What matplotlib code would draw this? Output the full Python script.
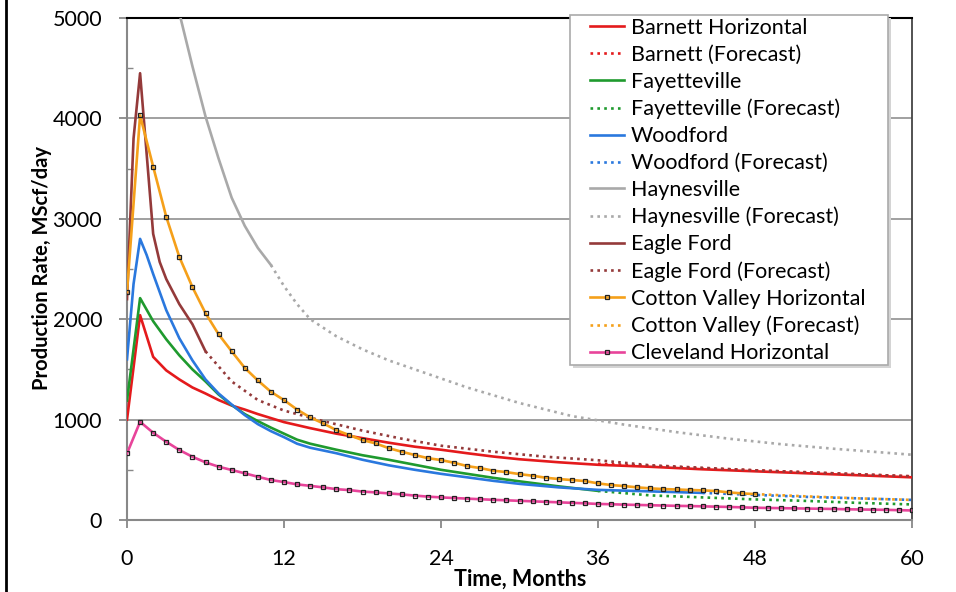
import matplotlib
matplotlib.use('Agg')
import matplotlib.pyplot as plt
from matplotlib.lines import Line2D
from matplotlib.patches import Rectangle

plt.rcParams['font.family'] = ['Lato', 'DejaVu Sans']

# Barnett Horizontal
barnett_m = [0, 1, 2, 3, 4, 5, 6, 7, 8, 9, 10, 11, 12, 13, 14, 16, 18, 20, 22, 24, 26, 28, 30, 33, 36, 40, 44, 48, 52, 56, 60]
barnett_q = [1000, 2040, 1625, 1490, 1400, 1320, 1260, 1195, 1140, 1100, 1055, 1015, 975, 945, 915, 860, 815, 770, 730, 700, 665, 632, 605, 575, 550, 530, 505, 485, 465, 445, 425]
barnett_fc_m = [36, 40, 44, 48, 52, 56, 60]
barnett_fc_q = [560, 540, 515, 495, 475, 455, 435]

# Fayetteville
fay_m = [0, 1, 2, 3, 4, 5, 6, 7, 8, 9, 10, 11, 12, 13, 14, 16, 18, 20, 22, 24, 26, 28, 30, 33, 36]
fay_q = [1190, 2210, 1980, 1800, 1640, 1500, 1380, 1250, 1145, 1055, 985, 920, 860, 800, 760, 700, 645, 600, 550, 500, 460, 420, 385, 335, 290]
fay_fc_m = [36, 40, 44, 48, 52, 56, 60]
fay_fc_q = [290, 245, 225, 205, 190, 170, 155]

# Woodford
wood_m = [0, 0.5, 1, 1.5, 2, 3, 4, 5, 6, 7, 8, 9, 10, 11, 12, 13, 14, 16, 18, 20, 22, 24, 26, 28, 30, 33, 36, 40, 44]
wood_q = [1600, 2350, 2800, 2640, 2450, 2090, 1810, 1590, 1400, 1260, 1150, 1045, 955, 885, 825, 760, 720, 665, 600, 545, 500, 460, 425, 390, 360, 325, 300, 285, 270]
wood_fc_m = [44, 48, 52, 56, 60]
wood_fc_q = [270, 250, 230, 215, 200]

# Haynesville
hay_m = [0, 1, 2, 3, 4, 5, 6, 7, 8, 9, 10, 11]
hay_q = [11000, 9000, 7300, 6000, 5050, 4520, 4020, 3600, 3210, 2930, 2710, 2540]
hay_fc_m = [11, 12, 13, 14, 16, 18, 20, 22, 26, 30, 34, 38, 42, 46, 50, 54, 60]
hay_fc_q = [2540, 2330, 2150, 2000, 1830, 1700, 1590, 1500, 1320, 1165, 1035, 950, 875, 810, 755, 710, 650]

# Eagle Ford
ef_m = [0, 0.5, 1, 1.5, 2, 2.5, 3, 4, 5, 6]
ef_q = [2200, 3800, 4450, 3650, 2850, 2570, 2400, 2150, 1950, 1680]
ef_fc_m = [6, 8, 10, 12, 15, 18, 21, 24, 28, 32, 36, 40, 48, 60]
ef_fc_q = [1680, 1380, 1195, 1090, 985, 890, 810, 740, 680, 630, 595, 545, 495, 435]

# Cotton Valley Horizontal (monthly)
cv_q = [2270, 4030, 3520, 3020, 2620, 2320, 2060, 1850, 1680, 1515, 1390, 1277, 1194, 1100, 1022,
        962, 895, 845, 796, 763, 716, 680, 647, 616, 597, 570, 537, 517, 491, 477, 457, 441, 421,
        408, 398, 388, 365, 348, 338, 325, 315, 308, 304, 299, 295, 289, 275, 265, 258]
cv_m = list(range(len(cv_q)))
cv_fc_m = [48, 52, 56, 60]
cv_fc_q = [258, 235, 215, 200]

# Cleveland Horizontal (monthly)
cle_q = [663, 978, 869, 779, 697, 630, 574, 531, 498, 465, 431, 398, 378, 355, 340, 325, 307, 298,
         283, 275, 265, 255, 243, 233, 225, 219, 213, 207, 201, 196, 191, 186, 181, 176, 171, 166,
         160, 157, 153, 150, 147, 144, 141, 139, 136, 133, 130, 126, 122, 120, 118, 116, 114, 112,
         110, 107, 105, 103, 101, 98, 95]
cle_m = list(range(len(cle_q)))

fig = plt.figure(figsize=(9.56, 5.92), dpi=100)
ax = fig.add_axes([127/956, 1 - 520/592, (912 - 127)/956, (520 - 18)/592])

lw = 1.9
dot = (0, (1, 1.6))
ax.plot(barnett_m, barnett_q, color='#e41a1c', lw=lw, label='Barnett Horizontal', zorder=3)
ax.plot(barnett_fc_m, barnett_fc_q, color='#e41a1c', lw=lw, ls=dot, label='Barnett (Forecast)', zorder=3)
ax.plot(fay_m, fay_q, color='#1f9a2e', lw=lw, label='Fayetteville', zorder=3)
ax.plot(fay_fc_m, fay_fc_q, color='#1f9a2e', lw=lw, ls=dot, label='Fayetteville (Forecast)', zorder=3)
ax.plot(wood_m, wood_q, color='#2a78de', lw=lw, label='Woodford', zorder=3)
ax.plot(wood_fc_m, wood_fc_q, color='#2a78de', lw=lw, ls=dot, label='Woodford (Forecast)', zorder=3)
ax.plot(hay_m, hay_q, color='#a9a9a9', lw=lw, label='Haynesville', zorder=3)
ax.plot(hay_fc_m, hay_fc_q, color='#a9a9a9', lw=lw, ls=dot, label='Haynesville (Forecast)', zorder=3)
ax.plot(ef_m, ef_q, color='#943a3a', lw=lw, label='Eagle Ford', zorder=3)
ax.plot(ef_fc_m, ef_fc_q, color='#943a3a', lw=lw, ls=dot, label='Eagle Ford (Forecast)', zorder=3)
ax.plot(cv_m, cv_q, color='#f5a01a', lw=lw, marker='s', ms=3.2, mfc='none', mec='#222222', mew=0.9,
        label='Cotton Valley Horizontal', zorder=4)
ax.plot(cv_fc_m, cv_fc_q, color='#f5a01a', lw=lw, ls=dot, label='Cotton Valley (Forecast)', zorder=3)
ax.plot(cle_m, cle_q, color='#e8449a', lw=lw, marker='s', ms=3.2, mfc='none', mec='#222222', mew=0.9,
        label='Cleveland Horizontal', zorder=4)

ax.set_xlim(0, 60)
ax.set_ylim(0, 5000)
ax.set_xticks(range(0, 61, 12))
ax.set_yticks(range(0, 5001, 1000))
ax.set_yticks(range(500, 5000, 1000), minor=True)
ax.yaxis.grid(True, color='#999999', lw=1.3, zorder=1)
ax.set_axisbelow(True)

for s in ['left', 'bottom']:
    ax.spines[s].set_color('#888888')
    ax.spines[s].set_linewidth(1.5)
ax.spines['right'].set_color('#444444')
ax.spines['right'].set_linewidth(1.3)
ax.spines['top'].set_color('black')
ax.spines['top'].set_linewidth(1.5)

ax.tick_params(axis='x', which='major', length=6, width=1.3, color='#888888', pad=15,
               labelsize=15.5, direction='out')
ax.tick_params(axis='y', which='major', length=6, width=1.3, color='#888888', pad=12,
               labelsize=15.5, direction='out')
ax.tick_params(axis='y', which='minor', length=4, width=1, color='#888888', direction='in')

fig.text(42/956, 1 - 268/592, 'Production Rate, MScf/day', rotation=90, ha='center', va='center',
         fontsize=14.5, fontweight='bold')
fig.text(520/956, 1 - 586/592, 'Time, Months', ha='center', va='baseline',
         fontsize=15.5, fontweight='bold')

# legend box with a light shadow, drawn like the spreadsheet legend
ax.add_patch(Rectangle((573/956, 1 - 368/592), 318/956, 350/592, transform=fig.transFigure,
                       facecolor='#d4d4d4', edgecolor='none', zorder=8, clip_on=False))
ax.add_patch(Rectangle((570/956, 1 - 365/592), 318/956, 350/592, transform=fig.transFigure,
                       facecolor='white', edgecolor='#aaaaaa', lw=1.2, zorder=9, clip_on=False))

leg = ax.legend(loc='upper left', bbox_to_anchor=(590/956, 1 - 18/592), bbox_transform=fig.transFigure,
                borderaxespad=0, borderpad=0, fontsize=15.5, frameon=False,
                handlelength=1.58, handletextpad=0.33, labelspacing=0.32,
                numpoints=1, markerscale=0.9)
leg.set_zorder(10)

# left border of the original image
fig.add_artist(Line2D([6/956, 6/956], [0, 1], transform=fig.transFigure, color='black', lw=2))

fig.savefig('out.png', dpi=100)
